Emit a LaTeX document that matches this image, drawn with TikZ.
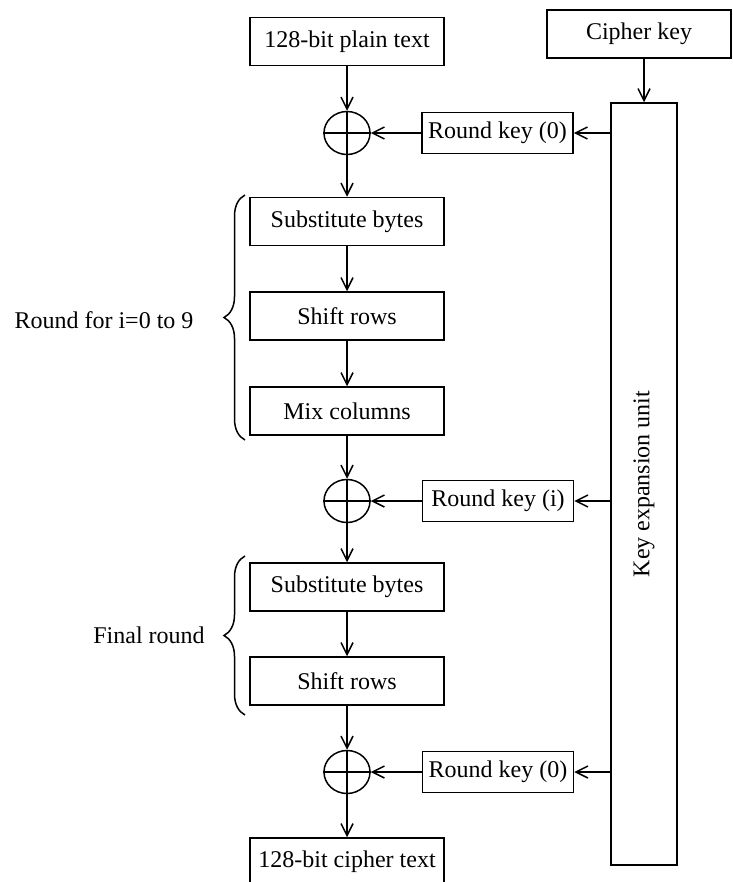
\documentclass[tikz,border=0pt]{standalone}
\usepackage{fontspec}
\setmainfont{Liberation Serif}
\usetikzlibrary{arrows.meta,shapes.geometric,decorations.pathreplacing}
\begin{document}
\begin{tikzpicture}[x=1pt,y=-1pt,
  line width=1.5pt,
  font=\fontsize{24pt}{28pt}\selectfont,
  stage/.style={draw,minimum width=194pt,minimum height=48pt,inner sep=0pt},
  keybox/.style={draw,minimum width=151pt,minimum height=41pt,inner sep=0pt},
  xorop/.style={draw,ellipse,minimum width=46pt,minimum height=43pt,inner sep=0pt},
  flow/.style={-{Straight Barb[length=12pt,width=12pt]}},
  bracket/.style={decorate,decoration={brace,amplitude=21pt}},
]
\useasboundingbox (0,0) rectangle (732,882);
\clip (0,0) rectangle (732,882);

% input, cipher key and key schedule
\node[stage] (plain) at (347,41.5) {128-bit plain text};
\node[stage,minimum width=184pt] (cipher) at (639,34) {Cipher key};
\node[draw,minimum width=66pt,minimum height=762pt,inner sep=0pt] (kexp) at (644,484) {};
\node[rotate=90] (kexplabel) at (kexp.center) {Key expansion unit};

% initial key addition
\node[xorop] (x1) at (347,133) {};
\node[keybox] (rk0) at (497.5,133) {Round key (0)};

% main rounds
\node[stage] (sub1) at (347,221.5) {Substitute bytes};
\node[stage] (shift1) at (347,316) {Shift rows};
\node[stage] (mix) at (347,411) {Mix columns};
\node[xorop] (x2) at (347,501) {};
\node[keybox] (rki) at (498,501) {Round key (i)};

% final round
\node[stage] (sub2) at (347,587) {Substitute bytes};
\node[stage] (shift2) at (347,681) {Shift rows};
\node[xorop] (x3) at (347,772) {};
\node[keybox] (rk0b) at (498,772) {Round key (0)};
\node[stage] (ctext) at (347,862) {128-bit cipher text};

% XOR crosses
\foreach \x in {x1,x2,x3}{
  \draw (\x.north) -- (\x.south) (\x.west) -- (\x.east);
}

% data path
\draw[flow] (plain) -- (x1);
\draw[flow] (x1) -- (sub1);
\draw[flow] (sub1) -- (shift1);
\draw[flow] (shift1) -- (mix);
\draw[flow] (mix) -- (x2);
\draw[flow] (x2) -- (sub2);
\draw[flow] (sub2) -- (shift2);
\draw[flow] (shift2) -- (x3);
\draw[flow] (x3) -- (ctext);

% key path
\draw[flow] (kexp.north |- cipher.south) -- (kexp.north);
\draw[flow] (kexp.west |- rk0.east) -- (rk0.east);
\draw[flow] (rk0) -- (x1);
\draw[flow] (kexp.west |- rki.east) -- (rki.east);
\draw[flow] (rki) -- (x2);
\draw[flow] (kexp.west |- rk0b.east) -- (rk0b.east);
\draw[flow] (rk0b) -- (x3);

% round groupings
\draw[bracket] (245,440) -- (245,195);
\node (roundlbl) at (104,320) {Round for i=0 to 9};
\draw[bracket] (245,715) -- (245,556);
\node (finallbl) at (149,635) {Final round};
\end{tikzpicture}
\end{document}
